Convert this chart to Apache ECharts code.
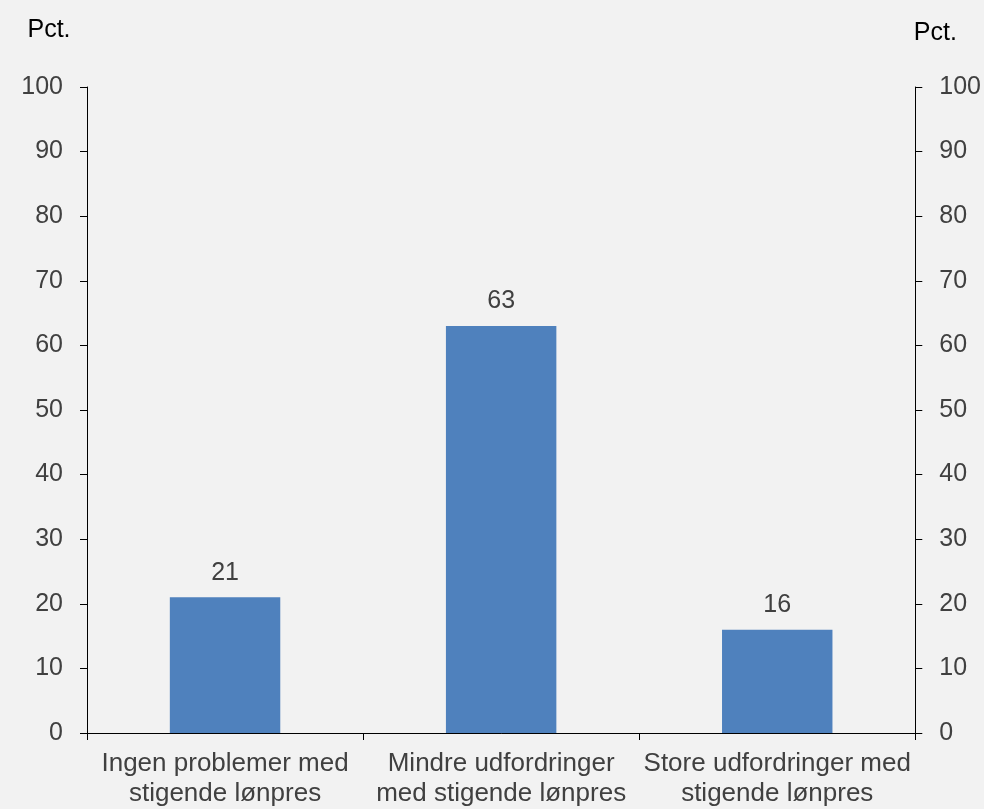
<!DOCTYPE html>
<html>
<head>
<meta charset="utf-8">
<script src="https://cdn.jsdelivr.net/npm/echarts@6/dist/echarts.min.js"></script>
<style>
  html, body { margin: 0; padding: 0; background: #f2f2f2; }
  #chart { width: 984px; height: 809px; }
</style>
</head>
<body>
<div id="chart"></div>
<script>
// data
const categories = [
  'Ingen problemer med\nstigende lønpres',
  'Mindre udfordringer\nmed stigende lønpres',
  'Store udfordringer med\nstigende lønpres'
]
const values = [21, 63, 16]
const yTicks = { min: 0, max: 100, interval: 10 }

const textColor = '#404040'
const font = 'Liberation Sans, Arial, sans-serif'
const fs = 25

const axisCommon = {
  type: 'value',
  min: yTicks.min,
  max: yTicks.max,
  interval: yTicks.interval,
  axisLine: { show: true, lineStyle: { color: '#000', width: 1 } },
  axisTick: { show: true, length: 7, lineStyle: { color: '#000' } },
  axisLabel: { color: textColor, fontSize: fs, fontFamily: font, margin: 24 },
  splitLine: { show: false },
  nameTextStyle: { color: '#000', fontSize: 25, fontFamily: font }
}

const chart = echarts.init(document.getElementById('chart'))
chart.setOption({
  backgroundColor: '#f2f2f2',
  animation: false,
  grid: { left: 87, right: 67, top: 87, bottom: 75, containLabel: false },
  xAxis: {
    type: 'category',
    data: categories,
    axisLine: { lineStyle: { color: '#000', width: 1 } },
    axisTick: { show: true, length: 7, alignWithLabel: false, lineStyle: { color: '#000' } },
    axisLabel: {
      color: textColor, fontSize: 26, fontFamily: font,
      lineHeight: 30, margin: 16, interval: 0
    }
  },
  yAxis: [
    Object.assign({}, axisCommon, {
      position: 'left', name: 'Pct.',
      nameGap: 44,
      nameTextStyle: Object.assign({}, axisCommon.nameTextStyle, { align: 'center', padding: [0, 76, 0, 0] })
    }),
    Object.assign({}, axisCommon, {
      position: 'right', name: 'Pct.',
      nameGap: 41,
      nameTextStyle: Object.assign({}, axisCommon.nameTextStyle, { align: 'center', padding: [0, 0, 0, 40] })
    })
  ],
  series: [{
    type: 'bar',
    data: values,
    barWidth: '40%',
    itemStyle: { color: '#4f81bd' },
    label: {
      show: true, position: 'top', distance: 12,
      color: textColor, fontSize: fs, fontFamily: font
    }
  }]
})
</script>
</body>
</html>
